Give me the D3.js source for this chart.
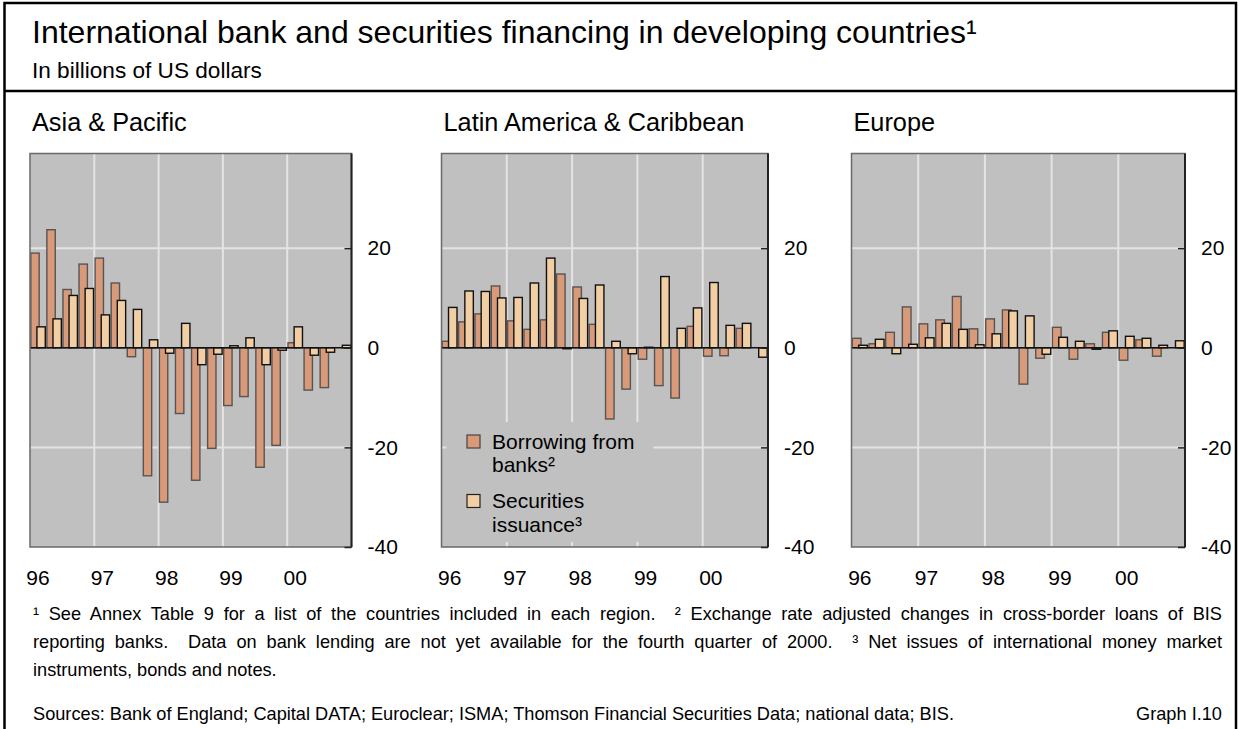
<!DOCTYPE html>
<meta charset="utf-8">
<style>
body { margin: 0; background: #fff; }
svg text { font-family: Arial, "Liberation Sans", sans-serif; fill: #000; }
.axis path { display: none; }
.axis text { font-size: 21px; font-family: Arial, "Liberation Sans", sans-serif; fill: #000; }
.axis line { stroke: #222; stroke-width: 1.5px; }
</style>
<body>
<svg id="chart" width="1239" height="729"></svg>

<script src="https://cdn.jsdelivr.net/npm/d3@7"></script>
<script>
// quarters 1996 Q1 .. 2000 Q4
var quarters = ["96Q1","96Q2","96Q3","96Q4","97Q1","97Q2","97Q3","97Q4","98Q1","98Q2",
                "98Q3","98Q4","99Q1","99Q2","99Q3","99Q4","00Q1","00Q2","00Q3","00Q4"];
var yearStarts = ["96Q1","97Q1","98Q1","99Q1","00Q1"];
var yearLabels = ["96","97","98","99","00"];
var yTicks = [-40, -20, 0, 20];
var yGrid = [-20, 20];

var regionNames = ["Asia & Pacific", "Latin America & Caribbean", "Europe"];

// borrowing from banks (no Q4 2000 data)
var asiaBanks  = [19.0, 23.7, 11.7, 16.8, 18.0, 13.0, -1.8, -25.7, -31.0, -13.2,
                  -26.6, -20.2, -11.6, -9.8, -24.0, -19.6, 1.0, -8.5, -8.0, null];
var latamBanks = [1.3, 5.2, 6.8, 12.4, 5.4, 3.7, 5.6, 14.8, 12.2, 4.7,
                  -14.3, -8.3, -2.3, -7.6, -10.1, 4.3, -1.7, -1.6, 3.9, null];
var europeBanks = [1.9, 0.8, 3.1, 8.2, 4.8, 5.6, 10.3, 3.8, 5.8, 7.6,
                   -7.3, -2.1, 4.1, -2.3, 0.8, 3.1, -2.5, 1.6, -1.7, null];

// securities issuance
var asiaSec  = [4.2, 5.8, 10.5, 11.9, 6.6, 9.5, 7.7, 1.6, -1.1, 4.9,
                -3.4, -1.3, 0.4, 2.0, -3.4, -0.5, 4.2, -1.5, -0.9, 0.5];
var latamSec = [8.1, 11.4, 11.3, 10.0, 10.1, 13.0, 18.0, -0.2, 9.9, 12.6,
                1.3, -1.2, 0.1, 14.3, 3.9, 8.0, 13.1, 4.5, 4.9, -1.9];
var europeSec = [0.5, 1.7, -1.2, 0.7, 2.0, 4.9, 3.7, 0.6, 2.8, 7.4,
                 6.4, -1.3, 2.1, 1.3, -0.3, 3.4, 2.3, 1.9, 0.5, 1.4];

var seriesNames = ["Borrowing from|banks\u00b2", "Securities|issuance\u00b3"];
var colors = { bank: "#d99a7a", sec: "#f2cea5" };

var panels = [
  { name: regionNames[0], bank: asiaBanks,   sec: asiaSec,   x0: 30,    x1: 351.5, legend: false },
  { name: regionNames[1], bank: latamBanks,  sec: latamSec,  x0: 441.5, x1: 768,   legend: true },
  { name: regionNames[2], bank: europeBanks, sec: europeSec, x0: 851.5, x1: 1185,  legend: false }
];

var svg = d3.select("#chart");
var plotTop = 153.5, plotBottom = 547;

// outer frame (open at the bottom edge of the picture) and header
svg.append("rect").attr("x", 4.5).attr("y", 3).attr("width", 1231.5).attr("height", 740)
  .attr("fill", "none").attr("stroke", "#000").attr("stroke-width", 2.5);
svg.append("line").attr("x1", 4.5).attr("x2", 1236).attr("y1", 91).attr("y2", 91)
  .attr("stroke", "#000").attr("stroke-width", 2.5);

svg.append("text").attr("x", 32).attr("y", 42.5).style("font-size", "32px")
  .text("International bank and securities financing in developing countries\u00b9");
svg.append("text").attr("x", 32).attr("y", 78).style("font-size", "22.6px")
  .text("In billions of US dollars");

var y = d3.scaleLinear().domain([-40, 39]).range([plotBottom, plotTop]);

panels.forEach(function(p) {
  var x = d3.scaleBand().domain(quarters).range([p.x0, p.x1]).paddingInner(0).paddingOuter(0);
  var bw = x.bandwidth();
  var g = svg.append("g");

  g.append("text").attr("x", p.x0 + 2).attr("y", 131).style("font-size", "25.3px").text(p.name);

  g.append("rect").attr("x", p.x0).attr("y", plotTop)
    .attr("width", p.x1 - p.x0).attr("height", plotBottom - plotTop).attr("fill", "#c0c0c0");

  g.selectAll(".vgrid").data(yearStarts.slice(1)).enter().append("line")
    .attr("x1", function(d) { return x(d); }).attr("x2", function(d) { return x(d); })
    .attr("y1", plotTop).attr("y2", plotBottom)
    .attr("stroke", "#e4e4e4").attr("stroke-width", 2);
  g.selectAll(".hgrid").data(yGrid).enter().append("line")
    .attr("x1", p.x0).attr("x2", p.x1)
    .attr("y1", function(d) { return y(d); }).attr("y2", function(d) { return y(d); })
    .attr("stroke", "#e4e4e4").attr("stroke-width", 2);

  if (p.legend) {
    g.append("rect").attr("x", p.x0 + 5).attr("y", 422).attr("width", 207).attr("height", 120)
      .attr("fill", "#c0c0c0");
  }

  var bankData = quarters.map(function(q, i) { return { q: q, v: p.bank[i] }; })
    .filter(function(d) { return d.v !== null; });
  var secData = quarters.map(function(q, i) { return { q: q, v: p.sec[i] }; });

  g.selectAll(".bank").data(bankData).enter().append("rect")
    .attr("x", function(d) { return x(d.q) + bw * 0.05; })
    .attr("width", bw * 0.52)
    .attr("y", function(d) { return y(Math.max(0, d.v)); })
    .attr("height", function(d) { return Math.abs(y(d.v) - y(0)); })
    .attr("fill", colors.bank).attr("stroke", "#555").attr("stroke-width", 1.4);

  g.selectAll(".sec").data(secData).enter().append("rect")
    .attr("x", function(d) { return x(d.q) + bw * 0.43; })
    .attr("width", bw * 0.52)
    .attr("y", function(d) { return y(Math.max(0, d.v)); })
    .attr("height", function(d) { return Math.abs(y(d.v) - y(0)); })
    .attr("fill", colors.sec).attr("stroke", "#111").attr("stroke-width", 1.4);

  // zero line
  g.append("line").attr("x1", p.x0).attr("x2", p.x1).attr("y1", y(0)).attr("y2", y(0))
    .attr("stroke", "#111").attr("stroke-width", 1.5);

  // frame
  g.append("rect").attr("x", p.x0).attr("y", plotTop)
    .attr("width", p.x1 - p.x0).attr("height", plotBottom - plotTop)
    .attr("fill", "none").attr("stroke", "#6a6a6a").attr("stroke-width", 1.5);
  g.append("line").attr("x1", p.x1).attr("x2", p.x1).attr("y1", plotTop).attr("y2", plotBottom)
    .attr("stroke", "#222").attr("stroke-width", 2);

  // y axis on the right
  g.append("g").attr("class", "axis").attr("transform", "translate(" + p.x1 + ",0)")
    .call(d3.axisRight(y).tickValues(yTicks).tickSizeInner(-7).tickSizeOuter(0).tickPadding(16)
      .tickFormat(function(d) { return String(d); }));

  // year labels centred on first quarter
  g.append("g").attr("class", "axis").attr("transform", "translate(0," + plotBottom + ")")
    .call(d3.axisBottom(x).tickValues(yearStarts).tickSize(0).tickPadding(23)
      .tickFormat(function(d, i) { return yearLabels[i]; }));

  if (p.legend) {
    var leg = g.append("g").attr("transform", "translate(" + (p.x0 + 25.5) + ",435)");
    var legColors = [colors.bank, colors.sec];
    var legStroke = ["#444", "#222"];
    seriesNames.forEach(function(s, i) {
      var row = leg.append("g").attr("transform", "translate(0," + (i * 59.5) + ")");
      row.append("rect").attr("width", 13).attr("height", 13)
        .attr("fill", legColors[i]).attr("stroke", legStroke[i]).attr("stroke-width", 1.2);
      s.split("|").forEach(function(line, j) {
        row.append("text").attr("x", 25).attr("y", 13.5 + j * 23.5)
          .style("font-size", "21px").text(line);
      });
    });
  }
});

// footnotes, justified to the frame width
var noteLeft = 33, noteRight = 1222;
var notes = [
  "\u00b9 See Annex Table 9 for a list of the countries included in each region.  \u00b2 Exchange rate adjusted changes in cross-border loans of BIS",
  "reporting banks.  Data on bank lending are not yet available for the fourth quarter of 2000.  \u00b3 Net issues of international money market",
  "instruments, bonds and notes."
];
var noteY = [620, 648, 676];
notes.forEach(function(n, i) {
  var t = svg.append("text").attr("x", noteLeft).attr("y", noteY[i])
    .style("font-size", "18.2px").style("white-space", "pre").text(n);
  if (i < notes.length - 1) {
    var w = t.node().getComputedTextLength();
    var spaces = (n.match(/ /g) || []).length;
    t.style("word-spacing", ((noteRight - noteLeft - w) / spaces) + "px");
  }
});

svg.append("text").attr("x", noteLeft).attr("y", 720).style("font-size", "18.2px")
  .text("Sources: Bank of England; Capital DATA; Euroclear; ISMA; Thomson Financial Securities Data; national data; BIS.");
svg.append("text").attr("x", noteRight).attr("y", 720).attr("text-anchor", "end")
  .style("font-size", "18.2px").text("Graph I.10");
</script>
</body>
